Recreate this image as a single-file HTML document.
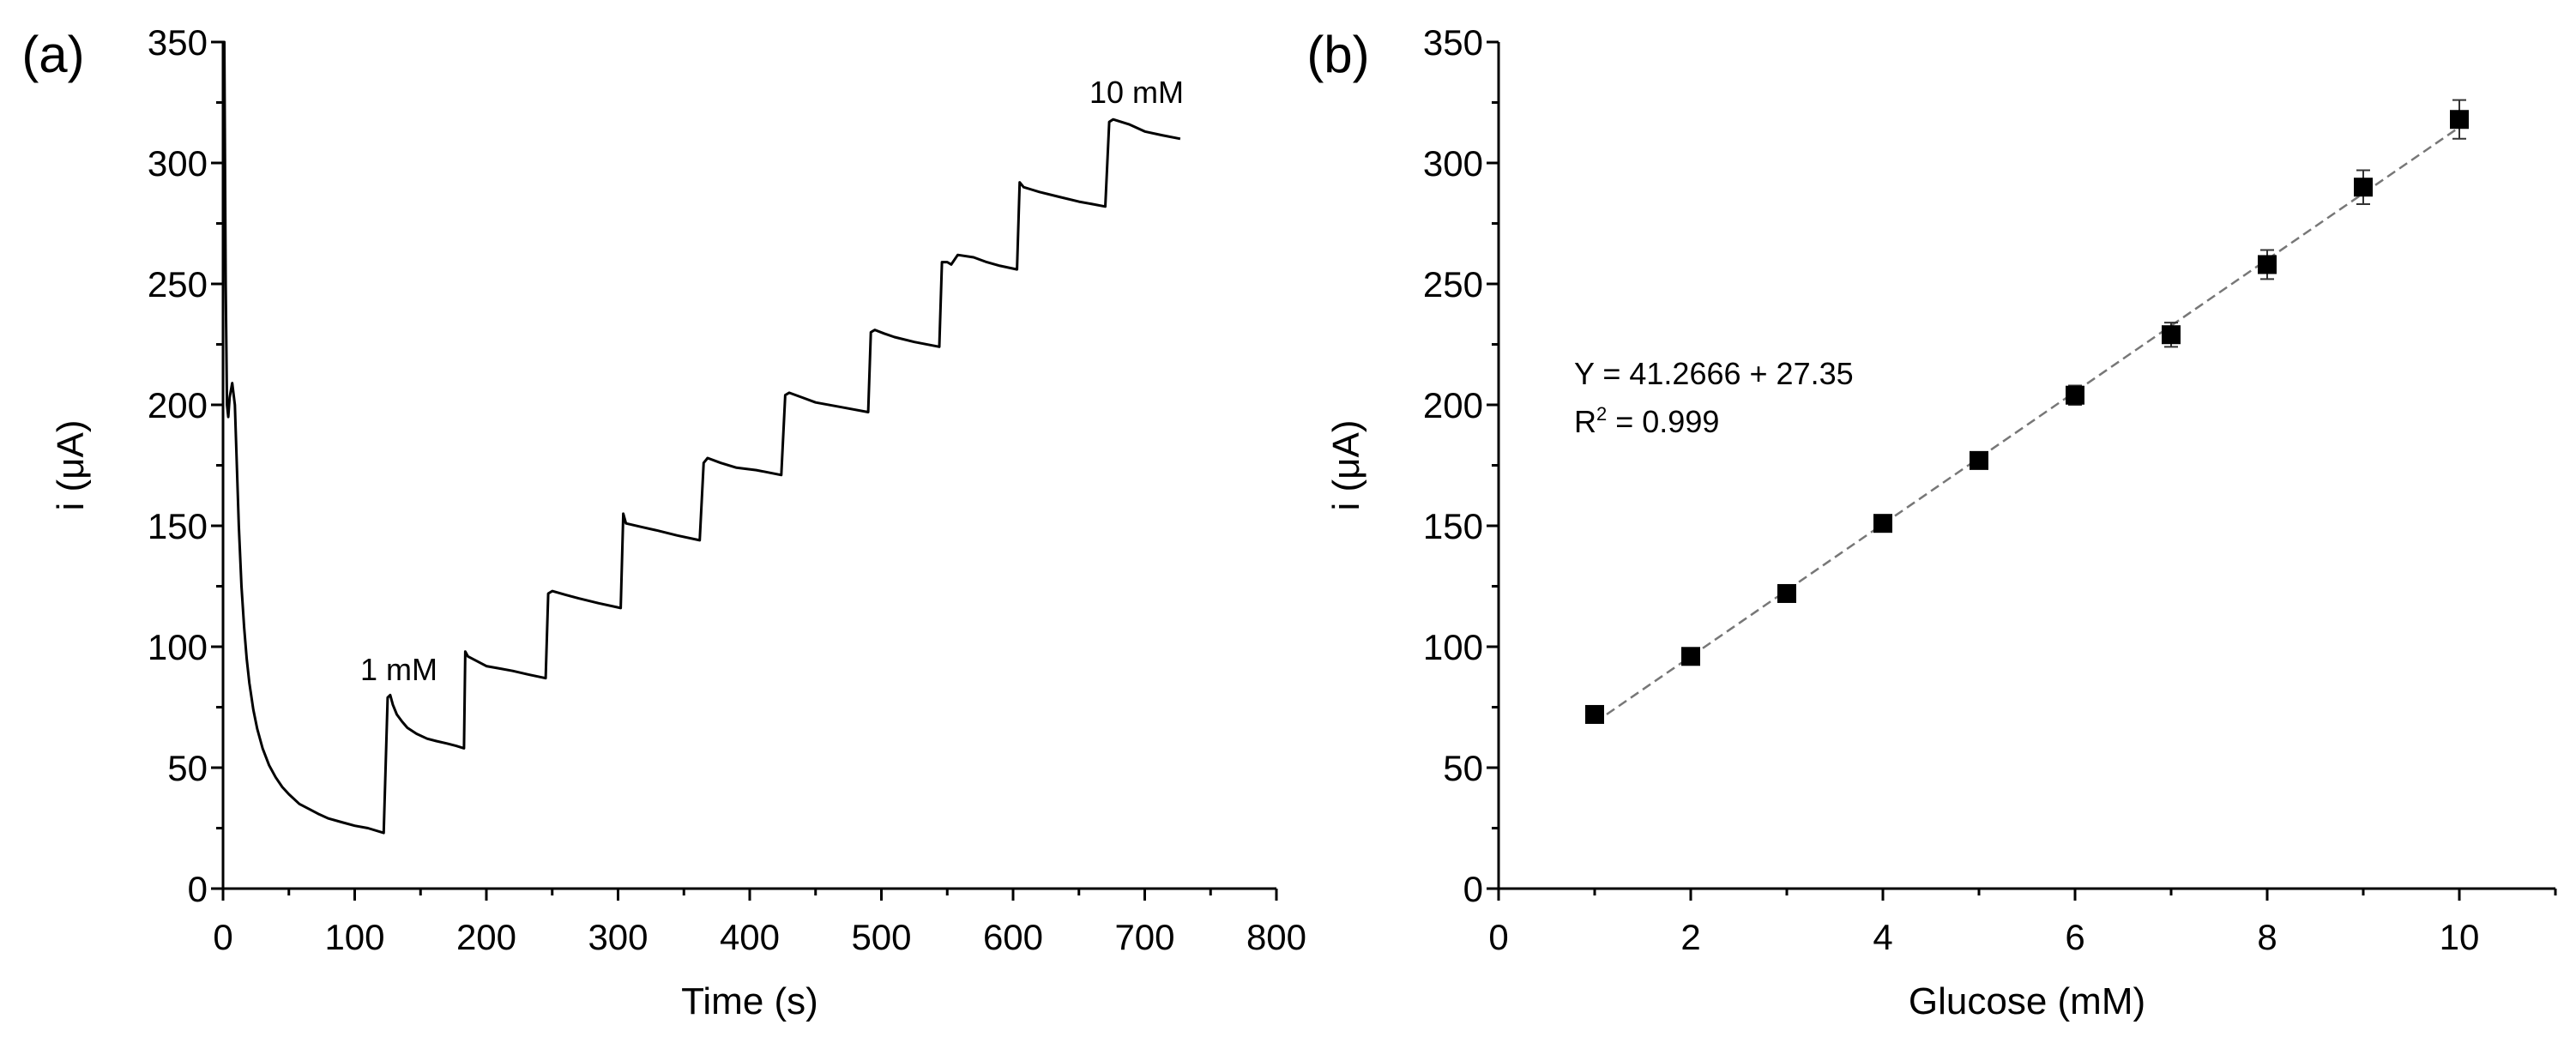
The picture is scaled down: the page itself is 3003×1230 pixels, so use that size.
<!DOCTYPE html>
<html><head><meta charset="utf-8">
<style>
html,body{margin:0;padding:0;background:#fff;}
svg{display:block;font-family:"Liberation Sans",Arial,sans-serif;}
</style></head>
<body>
<svg id="fig" width="3003" height="1230" viewBox="0 0 3003 1230" xmlns="http://www.w3.org/2000/svg">
<g id="pa"></g>
<g id="pb"></g>
</svg>
<script>
// Panel (a) amperometric trace: time (s) and current (uA)
const traceTime = [0,1,2,3,4,5,7,9,12,14,16,18,20,23,26,30,35,40,45,50,58,65,72,80,90,100,110,122,125,127,129,132,136,140,147,155,162,170,177,183,184,186,193,200,210,220,232,245,247,250,260,270,285,302,304,306,318,330,345,362,365,368,378,390,405,424,427,430,440,450,470,490,492,495,502,510,525,544,546,550,553,558,570,580,590,603,605,608,614,620,635,650,660,670,673,676,688,700,713,727];
const traceCurrent = [350,350,250,200,195,203,209,200,150,125,108,95,85,74,66,58,51,46,42,39,35,33,31,29,27.5,26,25,23,79,80,76,72,69,66.5,64,62,61,60,59,58,98,96,94,92,91,90,88.5,87,122,123,121.5,120,118,116,155,151,149.5,148,146,144,176,178,176,174,173,171,204,205,203,201,199,197,230,231,229.5,228,226,224,259,259,258,262,261,259,257.5,256,292,290,289,288,286,284,283,282,317,318,316,313,311.5,310];
const aXTicks = [0,100,200,300,400,500,600,700,800];
const yTicks = [0,50,100,150,200,250,300,350];
// Panel (b) calibration
const glucose = [1,2,3,4,5,6,7,8,9,10];
const meanCurrent = [72,96,122,151,177,204,229,258,290,318];
const errCurrent = [2,2,2,2,3,4,5,6,7,8];
const bXTicks = [0,2,4,6,8,10];
const fitIntercept = 41.2666;
const fitSlope = 27.35;

const NS = "http://www.w3.org/2000/svg";
function mk(parent, tag, attrs, text){
  const e = document.createElementNS(NS, tag);
  for (const k in attrs) e.setAttribute(k, attrs[k]);
  if (text !== undefined) e.textContent = text;
  parent.appendChild(e);
  return e;
}
const Y0 = 1036, Y1 = 49;
function yS(v){ return Y0 + (Y1 - Y0) * v / 350; }

function axes(g, x0, x1, xmin, xmax, xTicks, xMinorStep, title, yTitleOff){
  const xS = v => x0 + (x1 - x0) * (v - xmin) / (xmax - xmin);
  const ax = mk(g, 'line', {x1:x0, y1:Y0, x2:x1, y2:Y0, stroke:'#000','stroke-width':3});
  
  
  const ay = mk(g, 'line', {x1:x0, y1:Y0+1, x2:x0, y2:Y1, stroke:'#000','stroke-width':3});
  
  
  for (let v = xmin; v <= xmax + 1e-9; v += xMinorStep){
    const major = xTicks.some(t => Math.abs(t - v) < 1e-9);
    mk(g, 'line', {x1:xS(v), y1:Y0, x2:xS(v), y2:Y0 + (major ? 14 : 8), stroke:'#000','stroke-width':3});
  }
  xTicks.forEach(t => {
    const tx = mk(g, 'text', {x:xS(t), y:1107, 'font-size':42, 'text-anchor':'middle'}, String(t));
    
    
  });
  for (let v = 0; v <= 350; v += 25){
    const major = v % 50 === 0;
    mk(g, 'line', {x1:x0, y1:yS(v), x2:x0 - (major ? 14 : 8), y2:yS(v), stroke:'#000','stroke-width':3});
  }
  yTicks.forEach(t => {
    const ty = mk(g, 'text', {x:x0 - 18, y:yS(t) + 15, 'font-size':42, 'text-anchor':'end'}, String(t));
    
    
  });
  const xt = mk(g, 'text', {x:(x0 + x1) / 2, y:1182, 'font-size':44, 'text-anchor':'middle'}, title);
  
  
  const yt = mk(g, 'text', {x:0, y:0, 'font-size':44, 'text-anchor':'middle', transform:`translate(${x0 - yTitleOff},${(Y0 + Y1) / 2}) rotate(-90)`}, 'i (μA)');
  
  
  return xS;
}

// Panel a
const ga = document.getElementById('pa');
const xa = axes(ga, 260, 1488, 0, 800, aXTicks, 50, 'Time (s)', 163);
let d = '';
traceTime.forEach((t, i) => { d += (i ? 'L' : 'M') + xa(t).toFixed(1) + ',' + yS(traceCurrent[i]).toFixed(1); });
const tr = mk(ga, 'path', {d:d, fill:'none', stroke:'#000', 'stroke-width':3, 'stroke-linejoin':'round'});


const la = mk(ga, 'text', {x:62, y:84, 'font-size':60, 'text-anchor':'middle'}, '(a)');


const a1 = mk(ga, 'text', {x:465, y:793, 'font-size':36, 'text-anchor':'middle'}, '1 mM');


const a10 = mk(ga, 'text', {x:1325, y:120, 'font-size':36, 'text-anchor':'middle'}, '10 mM');



// Panel b
const gb = document.getElementById('pb');
const xb = axes(gb, 1747, 2979, 0, 11, bXTicks, 1, 'Glucose (mM)', 163);
const fit = mk(gb, 'line', {x1:xb(1), y1:yS(fitIntercept + fitSlope), x2:xb(10), y2:yS(fitIntercept + fitSlope * 10), stroke:'#777', 'stroke-width':2.5, 'stroke-dasharray':'11,6'});


glucose.forEach((g, i) => {
  const cx = xb(g), cy = yS(meanCurrent[i]);
  const top = yS(meanCurrent[i] + errCurrent[i]), bot = yS(meanCurrent[i] - errCurrent[i]);
  const eb = mk(gb, 'path', {d:`M${cx},${top}V${bot}M${cx-8},${top}H${cx+8}M${cx-8},${bot}H${cx+8}`, stroke:'#333', 'stroke-width':2, fill:'none'});
  
  
  const pt = mk(gb, 'rect', {x:cx - 11, y:cy - 11, width:22, height:22, fill:'#000'});
  
  
});
const lb = mk(gb, 'text', {x:1560, y:84, 'font-size':60, 'text-anchor':'middle'}, '(b)');


const eq = mk(gb, 'text', {x:1835, y:448, 'font-size':36}, 'Y = 41.2666 + 27.35');


const r2 = mk(gb, 'text', {x:1835, y:504, 'font-size':36});


r2.innerHTML = 'R<tspan font-size="22" dy="-14">2</tspan><tspan dy="14"> = 0.999</tspan>';
</script>
</body></html>
